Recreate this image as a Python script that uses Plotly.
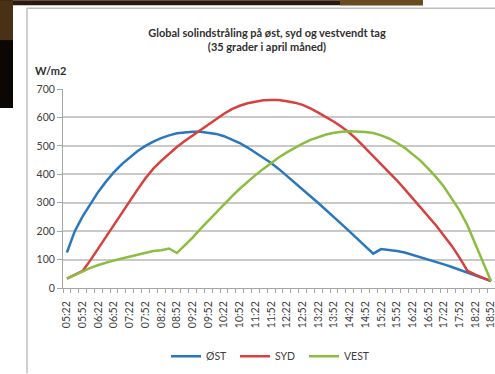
import plotly.graph_objects as go

times = ["05:22","05:37","05:52","06:07","06:22","06:37","06:52","07:07","07:22","07:37",
         "07:52","08:07","08:22","08:37","08:52","09:07","09:22","09:37","09:52","10:07",
         "10:22","10:37","10:52","11:07","11:22","11:37","11:52","12:07","12:22","12:37",
         "12:52","13:07","13:22","13:37","13:52","14:07","14:22","14:37","14:52","15:07",
         "15:22","15:37","15:52","16:07","16:22","16:37","16:52","17:07","17:22","17:37",
         "17:52","18:07","18:22","18:37","18:52"]

ost = [125,200,252,295,339,375,408,436,460,482,500,515,527,537,544,548,550,550,547,542,
       534,523,510,494,477,460,440,418,395,370,347,323,299,275,250,224,198,172,147,121,
       137,134,130,125,117,109,101,92,83,74,64,54,44,34,24]
syd = [33,46,60,98,140,183,224,265,305,347,386,420,447,472,496,517,536,554,574,595,
       613,629,641,650,656,660,661,661,657,652,644,632,617,601,585,566,545,520,492,464,
       438,410,379,348,316,285,254,220,184,148,106,60,47,36,24]
vest = [33,46,59,71,81,90,97,104,111,118,124,130,133,139,123,150,177,208,237,266,
        294,322,349,374,397,419,440,460,477,494,508,521,531,540,546,550,551,551,549,545,
        537,526,511,493,472,448,420,390,356,316,272,220,155,85,24]

series = [("ØST", ost, "#2a78bb"), ("SYD", syd, "#d8403f"), ("VEST", vest, "#8cbd3f")]
yticks = [0, 100, 200, 300, 400, 500, 600, 700]

W, H = 495, 374
ml, mr, mt, mb = 63, 0, 89, 85.5
pw, ph = W - ml - mr, H - mt - mb

def px(x):
    return (x - ml) / pw

def py(y):
    return (H - mb - y) / ph

idx = list(range(len(times)))
fig = go.Figure()
for name, vals, col in series:
    fig.add_trace(go.Scatter(x=idx, y=vals, name=name, mode="lines",
                             line=dict(color=col, width=2.5)))

font = "Lato, 'Open Sans', sans-serif"
fig.update_layout(
    width=W, height=H,
    margin=dict(l=ml, r=mr, t=mt, b=mb),
    paper_bgcolor="white", plot_bgcolor="white",
    font=dict(family=font, color="#404040", size=10),
    showlegend=True,
    legend=dict(orientation="h", x=px(166), xanchor="left", y=py(357), yanchor="middle",
                font=dict(size=10.5, color="#404040"), itemwidth=30, tracegroupgap=0,
                entrywidth=24, entrywidthmode="pixels",
                bgcolor="rgba(0,0,0,0)"),
    title=dict(text="<b>Global solindstråling på øst, syd og vestvendt tag<br>(35 grader i april måned)</b>",
               x=267 / W, xanchor="center", xref="container",
               y=1 - 37 / H, yanchor="middle", yref="container",
               font=dict(size=11, color="#303030", family=font)),
    xaxis=dict(range=[-0.5, 54.5], tickvals=idx[::2], ticktext=times[::2],
               tickangle=-90, ticks="outside", ticklen=8, tickcolor="rgba(0,0,0,0)",
               ticklabeloverflow="allow",
               showgrid=False, zeroline=False,
               showline=True, linecolor="#a6a6a6", linewidth=1,
               tickfont=dict(size=10.5, color="#404040"),
               minor=dict(ticks="outside", tick0=-0.5, dtick=1, ticklen=4,
                          tickcolor="#a6a6a6", showgrid=False)),
    yaxis=dict(range=[0, 700], tickvals=yticks, ticks="outside", ticklen=5,
               tickcolor="#a6a6a6", showgrid=True, gridcolor="#c9c9c9", gridwidth=1.5,
               zeroline=False, showline=True, linecolor="#a6a6a6", linewidth=1,
               tickfont=dict(size=10.5, color="#404040")),
)

fig.add_annotation(text="<b>W/m2</b>", xref="paper", yref="paper",
                   x=px(33), y=py(70), xanchor="left", yanchor="middle",
                   showarrow=False, font=dict(size=11, color="#303030", family=font))

shapes = [
    # chart frame
    dict(type="line", xref="paper", yref="paper", x0=px(27), x1=px(27), y0=py(8), y1=py(H),
         line=dict(color="#bfbfbf", width=1.5)),
    dict(type="line", xref="paper", yref="paper", x0=px(27), x1=px(W), y0=py(8), y1=py(8),
         line=dict(color="#bfbfbf", width=1.5)),
    # dark slide background bits
    dict(type="rect", xref="paper", yref="paper", x0=px(0), x1=px(423), y0=py(0), y1=py(5),
         fillcolor="#2b1a0b", line=dict(width=0), layer="above"),
    dict(type="rect", xref="paper", yref="paper", x0=px(340), x1=px(423), y0=py(0), y1=py(5),
         fillcolor="#6b4a1e", line=dict(width=0), layer="above"),
    dict(type="rect", xref="paper", yref="paper", x0=px(0), x1=px(13), y0=py(0), y1=py(108),
         fillcolor="#0a0705", line=dict(width=0), layer="above"),
    dict(type="rect", xref="paper", yref="paper", x0=px(0), x1=px(13), y0=py(0), y1=py(40),
         fillcolor="#4a3014", line=dict(width=0), layer="above"),
]
fig.update_layout(shapes=shapes)

fig.write_html("out.html")
